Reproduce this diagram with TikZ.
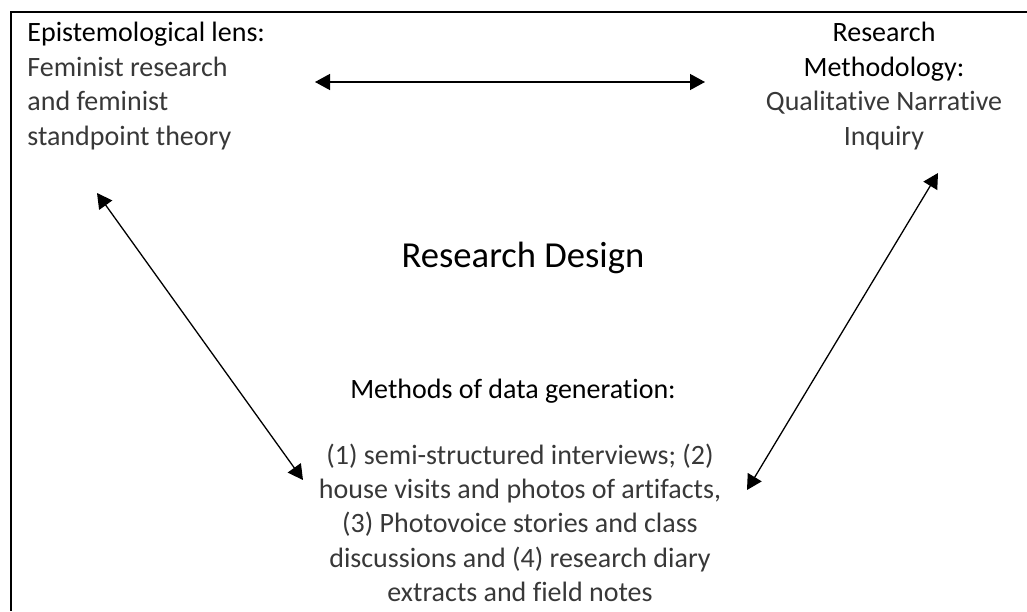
\documentclass[tikz,border=0pt]{standalone}
\usepackage{fontspec}
\setmainfont{Carlito}[Ligatures=NoCommon]
\usetikzlibrary{arrows.meta}
\colorlet{lightink}{black!78}
\newcommand{\lightline}[1]{{\color{lightink}#1}}
\tikzset{txt/.style = {inner sep=0pt, font=\fontsize{14}{17.2}\selectfont}}
\tikzset{link/.style = {{Triangle[length=7.5pt,width=8pt]}-{Triangle[length=7.5pt,width=8pt]}, line width=.65pt}}

\begin{document}
\begin{tikzpicture}[x=.5pt, y=-.5pt]
        \useasboundingbox (0,0) rectangle (1027,611);
        \draw[line width=1.3pt] (1027,12) -- (11,12) -- (11,611);
        \node[txt, anchor=base west, align=left] (lens) at (27,145)
          {Epistemological lens:\\ \lightline{Feminist research}\\
           \lightline{and feminist}\\ \lightline{standpoint theory}};
        \node[txt, anchor=base, align=center] (method) at (884,145)
          {Research\\ Methodology:\\ \lightline{Qualitative Narrative}\\
           \lightline{Inquiry}};
        \node[anchor=base, inner sep=0pt, font=\fontsize{18.3}{22}\selectfont]
          (design) at (523,267) {Research Design};
        \node[txt, anchor=base] (how) at (513,398) {Methods of data generation:};
        \node[txt, anchor=base, align=center] (gen) at (520,601.6)
          {\lightline{(1) semi-structured interviews; (2)}\\
           \lightline{house visits and photos of artifacts,}\hspace*{.6em}\\
           \lightline{(3) Photovoice stories and class}\\
           \lightline{discussions and (4) research diary}\\
           \lightline{extracts and field notes}};
        \draw[link] ([shift={(288,-63)}]lens.base west) -- ([shift={(-179,-63)}]method.base);
        \draw[link] ([shift={(70,48)}]lens.base west) -- ([shift={(-217,-121.6)}]gen.base);
        \draw[link] ([shift={(54,28)}]method.base) -- ([shift={(227,-111.6)}]gen.base);
\end{tikzpicture}
\end{document}
